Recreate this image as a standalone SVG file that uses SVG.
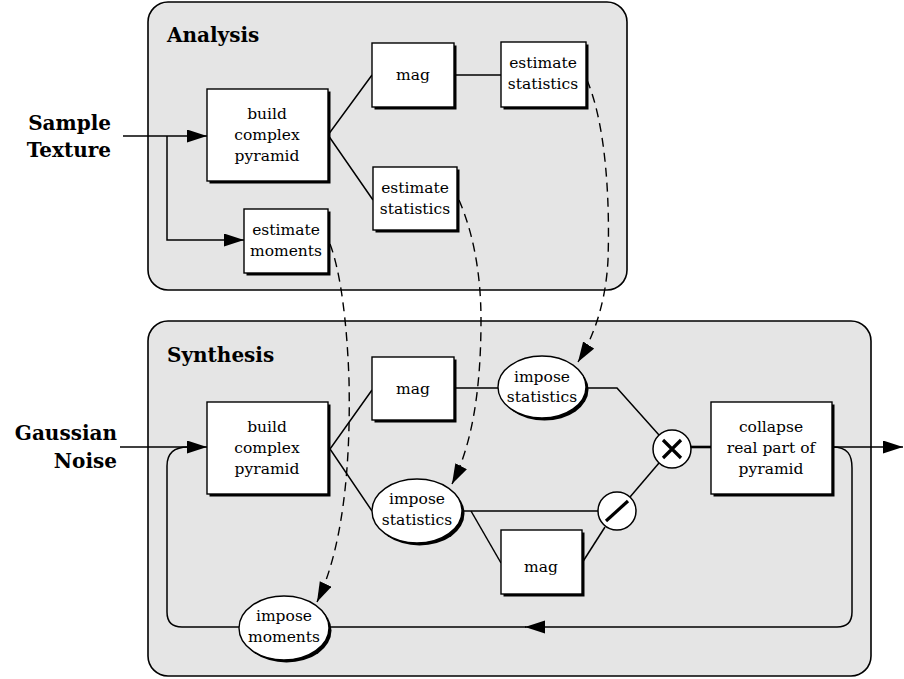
<svg xmlns="http://www.w3.org/2000/svg" width="904" height="679" viewBox="0 0 904 679">
<style>
.panel{fill:#e5e5e5;stroke:#000;stroke-width:1.6}
.box{fill:#fff;stroke:#000;stroke-width:1.4}
.sh{fill:#000}
.ln{fill:none;stroke:#000;stroke-width:1.5}
.dash{fill:none;stroke:#000;stroke-width:1.4;stroke-dasharray:9 6}
.t{font-family:"DejaVu Serif","Liberation Serif",serif;font-size:15.5px;text-anchor:middle;fill:#000}
.title{font-family:"DejaVu Serif","Liberation Serif",serif;font-size:20px;font-weight:bold;fill:#000}
.side{font-family:"DejaVu Serif","Liberation Serif",serif;font-size:20px;font-weight:bold;text-anchor:end;fill:#000}
.op{fill:#fff;stroke:#000;stroke-width:1.5}
.sym{stroke:#000;stroke-width:3.2;stroke-linecap:butt}
</style>
<defs>
<marker id="ah" markerUnits="userSpaceOnUse" markerWidth="22" markerHeight="14" refX="20" refY="6.5" orient="auto">
<path d="M0,0 L20,6.5 L0,13 Z" fill="#000"/>
</marker>
</defs>

<g id="panel-analysis">
<rect class="panel" x="148" y="2" width="479" height="288" rx="20"/>
<text class="title" x="167" y="42">Analysis</text>
</g>
<g id="panel-synthesis">
<rect class="panel" x="148" y="321" width="723" height="355" rx="20"/>
<text class="title" x="167" y="362">Synthesis</text>
</g>

<g id="labels">
<text class="side" x="111" y="130">Sample</text>
<text class="side" x="111" y="157">Texture</text>
<text class="side" x="117" y="440">Gaussian</text>
<text class="side" x="117" y="468">Noise</text>
</g>

<g id="connectors">
<path class="ln" d="M123,136 L207,136" marker-end="url(#ah)"/>
<path class="ln" d="M167,136 L167,240 L244,240" marker-end="url(#ah)"/>
<path class="ln" d="M372,75 L328,135 L373,200"/>
<path class="ln" d="M454,75 L501,75"/>
<path class="ln" d="M120,447 L207,447" marker-end="url(#ah)"/>
<path class="ln" d="M372,390 L330,449 L372,511"/>
<path class="ln" d="M454,388 L498,388"/>
<path class="ln" d="M587,388 L617,388 L659,435"/>
<path class="ln" d="M691,447 L711,447" style="stroke-width:2.6"/>
<path class="ln" d="M832,447 L903,447" marker-end="url(#ah)"/>
<path class="ln" d="M462,511 L598,511"/>
<path class="ln" d="M471,511 L501,563"/>
<path class="ln" d="M582,563 L605,527"/>
<path class="ln" d="M630,497 L659,463"/>
<path class="ln" d="M832,447 C848,447 852,455 852,468 L852,612 Q852,627 837,627 L525,627" marker-end="url(#ah)"/>
<path class="ln" d="M526,627 L182,627 Q167,627 167,612 L167,466 Q167,447 188,447"/>
<path class="dash" d="M587,80 C606,125 610,200 608,260 C606,300 595,335 578,362" marker-end="url(#ah)"/>
<path class="dash" d="M459,200 C472,230 481,270 481,320 C481,390 472,445 452,484" marker-end="url(#ah)"/>
<path class="dash" d="M330,244 C340,270 347,320 349,380 C351,470 342,550 317,602" marker-end="url(#ah)"/>
</g>

<g id="a-build">
<rect class="sh" x="209.5" y="91.5" width="121" height="92"/>
<rect class="box" x="207" y="89" width="121" height="92"/>
<text class="t" x="267" y="119">build</text>
<text class="t" x="267" y="140">complex</text>
<text class="t" x="267" y="161">pyramid</text>
</g>
<g id="a-mag">
<rect class="sh" x="374.5" y="45.5" width="82" height="64"/>
<rect class="box" x="372" y="43" width="82" height="64"/>
<text class="t" x="413" y="80">mag</text>
</g>
<g id="a-estat1">
<rect class="sh" x="503.5" y="44.5" width="85" height="65"/>
<rect class="box" x="501" y="42" width="85" height="65"/>
<text class="t" x="543" y="68">estimate</text>
<text class="t" x="543" y="89">statistics</text>
</g>
<g id="a-estat2">
<rect class="sh" x="375.5" y="169.5" width="84" height="63"/>
<rect class="box" x="373" y="167" width="84" height="63"/>
<text class="t" x="415" y="193">estimate</text>
<text class="t" x="415" y="214">statistics</text>
</g>
<g id="a-emom">
<rect class="sh" x="246.5" y="211.5" width="84" height="64"/>
<rect class="box" x="244" y="209" width="84" height="64"/>
<text class="t" x="286" y="235">estimate</text>
<text class="t" x="286" y="256">moments</text>
</g>

<g id="s-build">
<rect class="sh" x="209.5" y="404.5" width="121" height="92"/>
<rect class="box" x="207" y="402" width="121" height="92"/>
<text class="t" x="267" y="432">build</text>
<text class="t" x="267" y="453">complex</text>
<text class="t" x="267" y="474">pyramid</text>
</g>
<g id="s-mag1">
<rect class="sh" x="374.5" y="359.5" width="82" height="63"/>
<rect class="box" x="372" y="357" width="82" height="63"/>
<text class="t" x="413" y="394">mag</text>
</g>
<g id="s-istat1">
<ellipse class="sh" cx="544.5" cy="389.5" rx="44" ry="31"/>
<ellipse class="box" cx="542" cy="387" rx="44" ry="31"/>
<text class="t" x="542" y="382">impose</text>
<text class="t" x="542" y="402">statistics</text>
</g>
<g id="s-istat2">
<ellipse class="sh" cx="419.5" cy="513.5" rx="45" ry="32"/>
<ellipse class="box" cx="417" cy="511" rx="45" ry="32"/>
<text class="t" x="417" y="504">impose</text>
<text class="t" x="417" y="525">statistics</text>
</g>
<g id="s-imom">
<ellipse class="sh" cx="286.5" cy="630.5" rx="45" ry="32"/>
<ellipse class="box" cx="284" cy="628" rx="45" ry="32"/>
<text class="t" x="284" y="621">impose</text>
<text class="t" x="284" y="642">moments</text>
</g>
<g id="s-mag2">
<rect class="sh" x="503.5" y="532.5" width="81" height="64"/>
<rect class="box" x="501" y="530" width="81" height="64"/>
<text class="t" x="541" y="572">mag</text>
</g>
<g id="s-mult">
<circle class="op" cx="672" cy="449" r="19"/>
<path class="sym" d="M663,440 L681,458 M681,440 L663,458"/>
</g>
<g id="s-div">
<circle class="op" cx="617" cy="511" r="19"/>
<path class="sym" d="M606,521 L628,501"/>
</g>
<g id="s-collapse">
<rect class="sh" x="713.5" y="404.5" width="121" height="92"/>
<rect class="box" x="711" y="402" width="121" height="92"/>
<text class="t" x="771" y="432">collapse</text>
<text class="t" x="771" y="453">real part of</text>
<text class="t" x="771" y="474">pyramid</text>
</g>
</svg>
